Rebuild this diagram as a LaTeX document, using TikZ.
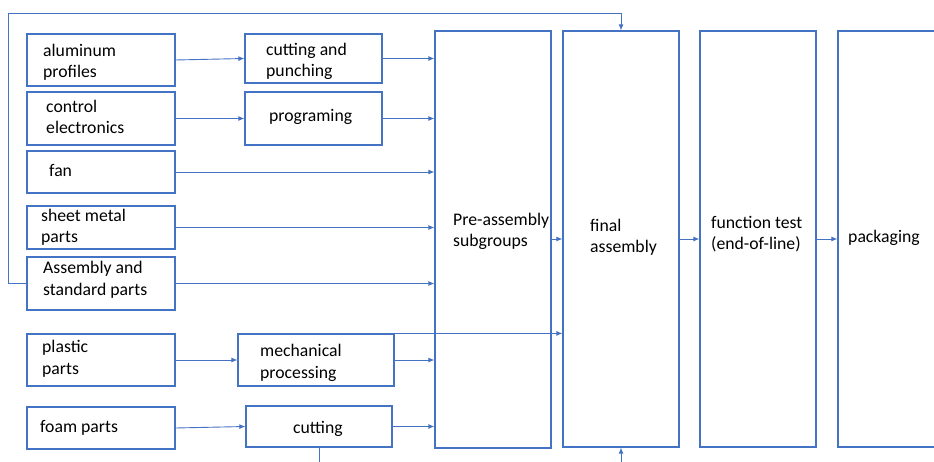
\documentclass[tikz,border=0pt]{standalone}
\usepackage{fontspec}
\setmainfont{Carlito}
\usetikzlibrary{arrows.meta}
\definecolor{wblue}{HTML}{4472C4}
\tikzset{
  box/.style={draw=wblue, line width=1.2pt, inner sep=0pt, rectangle},
  arr/.style={draw=wblue, line width=0.9pt, -{Latex[length=6pt,width=5pt]}},
  ln/.style={draw=wblue, line width=0.9pt},
  lbl/.style={anchor=base west, inner sep=0pt, align=left, font=\fontsize{17.7}{21.5}\selectfont}
}
\begin{document}
\begin{tikzpicture}[x=1pt,y=-1pt]
\useasboundingbox (0,0) rectangle (934,462);
\clip (0,0) rectangle (934,462);
% boxes
\node[box, minimum width=148pt, minimum height=52pt] (al) at (101,60) {};
\node[box, minimum width=137pt, minimum height=49pt] (cp) at (313.5,58.5) {};
\node[box, minimum width=148pt, minimum height=53pt] (ce) at (101,118.5) {};
\node[box, minimum width=137pt, minimum height=53pt] (pg) at (313.5,118.5) {};
\node[box, minimum width=148pt, minimum height=42pt] (fan) at (101,172) {};
\node[box, minimum width=148pt, minimum height=43pt] (sm) at (101,227.5) {};
\node[box, minimum width=148pt, minimum height=53pt] (as) at (101,283.5) {};
\node[box, minimum width=148pt, minimum height=52pt] (pl) at (101,360) {};
\node[box, minimum width=156pt, minimum height=52pt] (mp) at (316,360) {};
\node[box, minimum width=148pt, minimum height=42pt] (fo) at (101,428) {};
\node[box, minimum width=146pt, minimum height=41pt] (cu) at (319,426.5) {};
\node[box, minimum width=116pt, minimum height=417pt] (pa) at (493,239.5) {};
\node[box, minimum width=116pt, minimum height=416pt] (fa) at (621,239) {};
\node[box, minimum width=116pt, minimum height=416pt] (ft) at (758,239) {};
\node[box, minimum width=130pt, minimum height=416pt] (pk) at (903,239) {};
% labels (anchor = baseline of last line)
\node[lbl] (t1) at (43,78) {aluminum\\profiles};
\node[lbl] (t2) at (266,77) {cutting and\\punching};
\node[lbl] (t3) at (46,134) {control\\electronics};
\node[lbl] (t4) at (269,122) {programing};
\node[lbl] (t5) at (49,177) {fan};
\node[lbl] (t6) at (41,243) {sheet metal\\parts};
\node[lbl] (t7) at (43,295) {Assembly and\\standard parts};
\node[lbl] (t8) at (42,374) {plastic\\parts};
\node[lbl] (t9) at (260,378) {mechanical\\processing};
\node[lbl] (t10) at (40,432) {foam parts};
\node[lbl] (t11) at (293,433) {cutting};
\node[lbl] (t12) at (453,247) {Pre-assembly\\subgroups};
\node[lbl] (t13) at (590,253) {final\\assembly};
\node[lbl] (t14) at (711,250) {function test\\(end-of-line)};
\node[lbl] (t15) at (848,243) {packaging};
% connectors
\draw[arr] (al.east) -- (cp.west);
\draw[arr] (cp.east) -- (pa.west |- cp.east);
\draw[arr] (ce.east) -- (pg.west);
\draw[arr] (pg.east) -- (pa.west |- pg.east);
\draw[arr] (fan.east) -- (pa.west |- fan.east);
\draw[arr] (sm.east) -- (pa.west |- sm.east);
\draw[arr] (as.east) -- (pa.west |- as.east);
\draw[arr] (pl.east) -- (mp.west);
\draw[arr] (mp.east) -- (pa.west |- mp.east);
\draw[arr] (fo.east) -- (cu.west);
\draw[arr] (cu.east) -- (pa.west |- cu.east);
\draw[arr] (mp.north west) -- (fa.west |- mp.north west);
\draw[arr] (pa.east |- fa.west) -- (fa.west);
\draw[arr] (fa.east) -- (ft.west);
\draw[arr] (ft.east) -- (pk.west);
\draw[arr] (as.west) -- (8,283.5) -- (8,13) -- (fa.north |- 0,13) -- (fa.north);
\coordinate (bin) at (621,462);
\coordinate (bout) at (319,462);
\draw[arr] (bin) -- (fa.south);
\draw[ln] (cu.south) -- (bout);
\end{tikzpicture}
\end{document}
